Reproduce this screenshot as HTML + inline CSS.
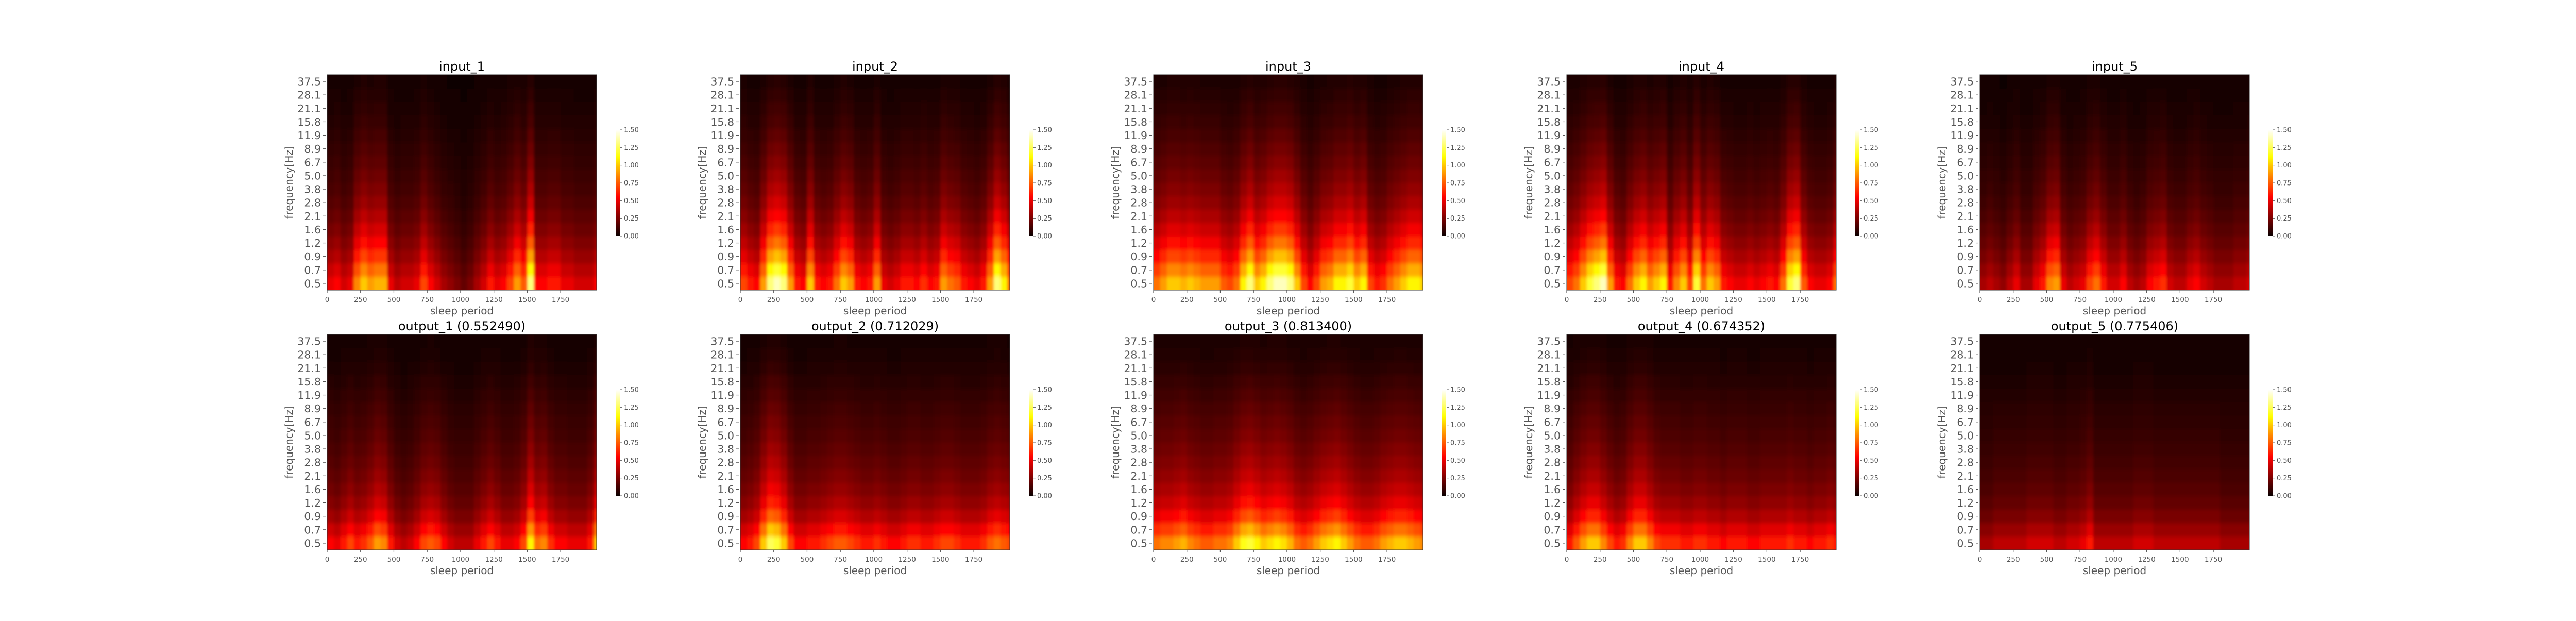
<!DOCTYPE html>
<html><head><meta charset="utf-8"><style>
html,body{margin:0;padding:0;background:#fff;}
svg text{font-family:"DejaVu Sans","Liberation Sans",sans-serif;}
</style></head><body>
<svg id="fig" xmlns="http://www.w3.org/2000/svg" width="5000" height="1200" viewBox="0 0 5000 1200">
<defs>
<filter id="smooth" x="-0.1" y="-0.1" width="1.2" height="1.2"><feGaussianBlur stdDeviation="2.5 4"/></filter>
<linearGradient id="hotgrad" x1="0" y1="1" x2="0" y2="0">
<stop offset="0" stop-color="#0b0000"/><stop offset="0.365" stop-color="#ff0000"/><stop offset="0.746" stop-color="#ffff00"/><stop offset="1" stop-color="#ffffff"/>
</linearGradient>
</defs>
</svg>
<script>
// ---- data ----
const freqLabels = ["0.5","0.7","0.9","1.2","1.6","2.1","2.8","3.8","5.0","6.7","8.9","11.9","15.8","21.1","28.1","37.5"];
const xTicks = [0,250,500,750,1000,1250,1500,1750];
const cbTicks = ["0.00","0.25","0.50","0.75","1.00","1.25","1.50"];
const epochStep = 50;
const xMax = 2020;
const inputFreqProfile = [1,0.85,0.7,0.58,0.48,0.4,0.33,0.28,0.24,0.2,0.17,0.14,0.11,0.09,0.07,0.05];
const outputFreqProfile = [1,0.8,0.62,0.5,0.42,0.36,0.31,0.27,0.23,0.2,0.17,0.14,0.11,0.08,0.06,0.045];
const titlesTop = ["input_1","input_2","input_3","input_4","input_5"];
const titlesBottom = ["output_1 (0.552490)","output_2 (0.712029)","output_3 (0.813400)","output_4 (0.674352)","output_5 (0.775406)"];
const input1 = [0.5,0.55,0.45,0.5,0.85,1.0,0.9,0.95,0.95,0.5,0.4,0.45,0.45,0.5,0.7,0.55,0.45,0.35,0.3,0.25,0.2,0.25,0.35,0.45,0.6,0.5,0.55,0.7,0.9,0.75,1.3,0.55,0.55,0.6,0.6,0.5,0.5,0.45,0.45,0.45,0.55];
const output1 = [0.55,0.5,0.6,0.7,0.6,0.65,0.75,0.9,0.85,0.6,0.45,0.4,0.45,0.55,0.7,0.75,0.7,0.55,0.45,0.4,0.4,0.4,0.5,0.6,0.7,0.6,0.5,0.5,0.55,0.7,1.1,0.8,0.85,0.65,0.55,0.55,0.5,0.5,0.5,0.6,1.0];
const input2 = [0.7,0.6,0.55,0.9,1.3,1.4,1.3,0.9,0.6,0.55,1.0,0.6,0.55,0.6,0.8,1.0,0.9,0.6,0.55,0.6,0.9,0.5,0.45,0.5,0.6,0.6,0.55,0.65,0.55,0.6,0.9,0.8,0.75,0.6,0.55,0.5,0.6,0.9,1.3,1.1,0.8];
const output2 = [0.55,0.6,0.7,1.0,1.25,1.2,1.0,0.7,0.55,0.55,0.6,0.6,0.65,0.7,0.75,0.75,0.7,0.65,0.6,0.6,0.65,0.6,0.55,0.55,0.6,0.65,0.65,0.6,0.6,0.65,0.7,0.7,0.65,0.6,0.6,0.6,0.65,0.75,0.8,0.75,0.7];
const input3 = [0.8,0.9,1.0,1.0,0.95,1.0,0.95,0.9,0.9,0.9,0.75,0.7,0.8,1.1,1.3,1.0,1.1,1.3,1.4,1.4,1.3,1.0,0.7,0.55,0.7,0.9,0.95,1.1,1.1,1.2,1.0,1.1,0.7,0.6,0.65,0.8,0.9,1.0,1.1,1.1,1.0];
const output3 = [0.8,0.85,0.85,0.9,0.95,0.85,0.8,0.75,0.75,0.8,0.8,0.85,1.0,1.15,1.2,1.1,1.0,1.05,1.1,1.05,0.95,0.8,0.75,0.8,0.9,1.0,1.05,1.1,1.0,0.9,0.8,0.75,0.75,0.8,0.9,0.95,1.0,1.0,0.95,0.9,0.85];
const input4 = [0.7,0.8,1.0,1.2,1.3,1.4,0.9,0.6,0.55,0.8,1.0,1.1,0.9,1.0,1.1,0.6,0.85,1.0,0.7,1.2,0.8,1.0,0.9,0.6,0.55,0.5,0.5,0.55,0.5,0.55,0.6,0.55,0.8,1.2,1.3,0.75,0.55,0.5,0.5,0.55,0.8];
const output4 = [0.6,0.75,0.9,1.0,1.0,0.85,0.7,0.6,0.65,0.85,1.0,1.0,0.85,0.7,0.65,0.65,0.65,0.6,0.6,0.65,0.65,0.6,0.6,0.55,0.6,0.6,0.6,0.55,0.55,0.6,0.6,0.6,0.6,0.65,0.6,0.6,0.55,0.6,0.6,0.65,0.6];
const input5 = [0.35,0.4,0.35,0.3,0.4,0.5,0.35,0.35,0.5,0.6,0.85,0.9,0.5,0.4,0.45,0.5,0.7,0.8,0.6,0.45,0.45,0.55,0.4,0.35,0.4,0.55,0.6,0.65,0.45,0.4,0.4,0.5,0.55,0.45,0.4,0.35,0.35,0.35,0.4,0.4,0.45];
const output5 = [0.35,0.35,0.4,0.4,0.4,0.4,0.4,0.45,0.45,0.45,0.45,0.4,0.4,0.45,0.45,0.5,0.6,0.4,0.4,0.4,0.4,0.4,0.4,0.45,0.45,0.45,0.4,0.4,0.4,0.4,0.4,0.4,0.4,0.4,0.4,0.4,0.35,0.35,0.35,0.35,0.35];
const inputs = [input1,input2,input3,input4,input5];
const outputs = [output1,output2,output3,output4,output5];

// ---- layout ----
const NS = "http://www.w3.org/2000/svg";
const svg = document.getElementById('fig');
const PX0 = 635, PDX = 802, AW = 523, AH = 418, ROWY = [145, 649];
const VMAX = 1.5, PAD = 14;
function mk(tag, attrs, parent){ const e=document.createElementNS(NS,tag); for(const k in attrs) e.setAttribute(k,attrs[k]); (parent||svg).appendChild(e); return e; }
function hot(v){
  let t=Math.max(0,Math.min(1,v/VMAX));
  const r=Math.min(1,0.0416+t/0.365*(1-0.0416)), g=Math.max(0,Math.min(1,(t-0.365)/0.381)), b=Math.max(0,Math.min(1,(t-0.746)/0.254));
  return `rgb(${Math.round(r*255)},${Math.round(g*255)},${Math.round(b*255)})`;
}
let clipId=0;
function panel(px, py, title, series, prof){
  const xs = v => px + v / xMax * AW;
  const rowH = AH / freqLabels.length;
  const ys = i => py + AH - (i+1)*rowH;
  const g = mk('g',{});
  
  
  const cid='c'+(clipId++);
  const cp=mk('clipPath',{id:cid},g); mk('rect',{x:px,y:py,width:AW,height:AH},cp);
  const cg=mk('g',{'clip-path':`url(#${cid})`},g);
  const hm=mk('g',{filter:'url(#smooth)'},cg);
  mk('rect',{x:px-PAD,y:py-PAD,width:AW+2*PAD,height:AH+2*PAD,fill:'#0b0000'},hm);
  const nF=prof.length;
  for(let c=0;c<series.length;c++){
    let x0=xs(c*epochStep), x1=xs(Math.min(xMax,(c+1)*epochStep));
    if(x1<=x0) continue;
    if(c===0) x0-=PAD;
    if((c+1)*epochStep>=xMax) x1+=PAD;
    for(let f=0;f<nF;f++){
      let y0=ys(f), h=rowH+0.6;
      if(f===0) h+=PAD;
      if(f===nF-1){ y0-=PAD; h+=PAD; }
      const r=mk('rect',{x:x0.toFixed(2),y:y0.toFixed(2),width:(x1-x0+0.6).toFixed(2),height:h.toFixed(2),fill:hot(series[c]*prof[f])},hm);
      
      
    }
  }
  const fr=mk('rect',{x:px,y:py,width:AW,height:AH,fill:'none',stroke:'#333','stroke-width':1},g);
  
  
  const t=mk('text',{x:px+AW/2,y:py-8,'text-anchor':'middle','font-size':24,fill:'#000'},g); t.textContent=title;
  
  
  freqLabels.forEach((lab,i)=>{
    const y=ys(i)+rowH/2;
    mk('line',{x1:px-8,x2:px-3,y1:y,y2:y,stroke:'#555','stroke-width':1.2},g);
    const tl=mk('text',{x:px-12,y:y+7.5,'text-anchor':'end','font-size':20.5,fill:'#555'},g); tl.textContent=lab;
    
    
  });
  xTicks.forEach(v=>{
    const x=xs(v);
    mk('line',{x1:x,x2:x,y1:py+AH,y2:py+AH+5,stroke:'#555','stroke-width':1.2},g);
    const tl=mk('text',{x:x,y:py+AH+23,'text-anchor':'middle','font-size':13.5,fill:'#555'},g); tl.textContent=v;
    
    
  });
  const xl=mk('text',{x:px+AW/2,y:py+AH+47,'text-anchor':'middle','font-size':20,fill:'#555'},g); xl.textContent='sleep period';
  
  
  const yl=mk('text',{x:0,y:0,'text-anchor':'middle','font-size':20,fill:'#555',transform:`translate(${px-67},${py+AH/2}) rotate(-90)`},g); yl.textContent='frequency[Hz]';
  
  
  const cbx=px+560, cbh=206, cby=py+AH/2-cbh/2+1;
  const cb=mk('rect',{x:cbx,y:cby,width:8,height:cbh,fill:'url(#hotgrad)'},g);
  
  
  cbTicks.forEach((lab,i)=>{
    const y=cby+cbh - i/(cbTicks.length-1)*cbh;
    mk('line',{x1:cbx+9,x2:cbx+13,y1:y,y2:y,stroke:'#555','stroke-width':1},g);
    const tl=mk('text',{x:cbx+16,y:y+4.5,'font-size':13,fill:'#555'},g); tl.textContent=lab;
    
    
  });
}
for(let i=0;i<5;i++){
  panel(PX0+i*PDX, ROWY[0], titlesTop[i], inputs[i], inputFreqProfile);
  panel(PX0+i*PDX, ROWY[1], titlesBottom[i], outputs[i], outputFreqProfile);
}
</script>
</body></html>
